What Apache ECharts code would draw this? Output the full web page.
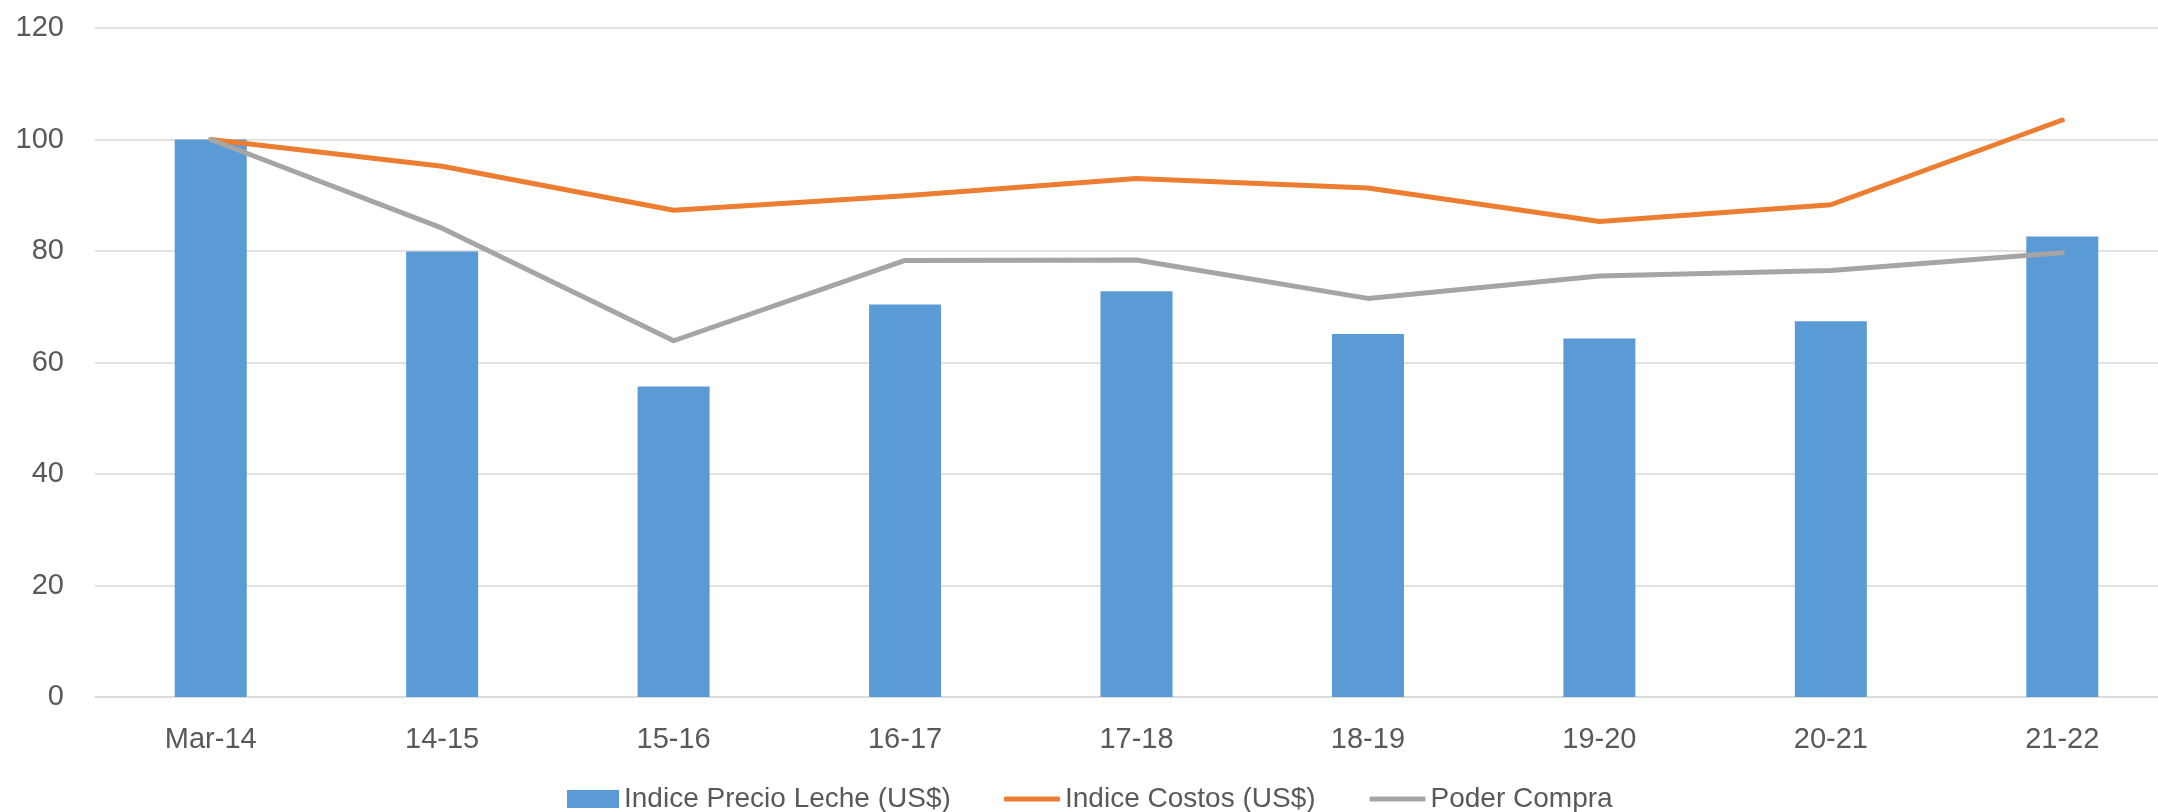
<!DOCTYPE html>
<html>
<head>
<meta charset="utf-8">
<script src="https://cdn.jsdelivr.net/npm/echarts@6/dist/echarts.min.js"></script>
<style>
html,body{margin:0;padding:0;background:#fff;}
#c{width:2158px;height:812px;}
</style>
</head>
<body>
<div id="c"></div>
<script>
const categories = ['Mar-14','14-15','15-16','16-17','17-18','18-19','19-20','20-21','21-22'];
const precioLeche = [100, 79.9, 55.7, 70.4, 72.8, 65.1, 64.3, 67.4, 82.6];
const costos = [100, 95.2, 87.3, 89.9, 93.0, 91.3, 85.3, 88.3, 103.5];
const poderCompra = [100, 84.1, 63.9, 78.3, 78.4, 71.5, 75.5, 76.5, 79.7];
const yTicks = {min: 0, max: 120, interval: 20};
const seriesNames = ['Indice Precio Leche (US$)', 'Indice Costos (US$)', 'Poder Compra'];

const FONT = 'Liberation Sans';
const legendText = {fontFamily: FONT, fontSize: 28, color: '#595959'};
const chart = echarts.init(document.getElementById('c'), null, {renderer: 'canvas'});
chart.setOption({
  animation: false,
  backgroundColor: '#ffffff',
  textStyle: {fontFamily: FONT},
  grid: {left: 95, width: 2083, top: 28, bottom: 115, containLabel: false, outerBoundsMode: 'none'},
  legend: [
    {
      left: 562, top: 780,
      itemWidth: 52, itemHeight: 18, icon: 'rect',
      textStyle: legendText,
      data: [seriesNames[0]]
    },
    {
      left: 999, top: 780,
      itemGap: 54, itemWidth: 56, itemHeight: 5, icon: 'roundRect',
      textStyle: legendText,
      data: [seriesNames[1], seriesNames[2]]
    }
  ],
  xAxis: {
    type: 'category',
    data: categories,
    axisLine: {lineStyle: {color: '#D9D9D9', width: 1.5}},
    axisTick: {show: false},
    axisLabel: {fontFamily: FONT, fontSize: 29, color: '#595959', margin: 28}
  },
  yAxis: {
    type: 'value',
    min: yTicks.min, max: yTicks.max, interval: yTicks.interval,
    axisLine: {show: false},
    axisTick: {show: false},
    splitLine: {lineStyle: {color: '#D9D9D9', width: 1.5}},
    axisLabel: {fontFamily: FONT, fontSize: 29, color: '#595959', margin: 31}
  },
  series: [
    {
      name: seriesNames[0],
      type: 'bar',
      data: precioLeche,
      barWidth: 72,
      itemStyle: {color: '#5B9BD5'}
    },
    {
      name: seriesNames[1],
      type: 'line',
      data: costos,
      symbol: 'none',
      lineStyle: {color: '#ED7D31', width: 5, cap: 'round', join: 'round'},
      itemStyle: {color: '#ED7D31'}
    },
    {
      name: seriesNames[2],
      type: 'line',
      data: poderCompra,
      symbol: 'none',
      lineStyle: {color: '#A5A5A5', width: 5, cap: 'round', join: 'round'},
      itemStyle: {color: '#A5A5A5'}
    }
  ]
});
</script>
</body>
</html>
